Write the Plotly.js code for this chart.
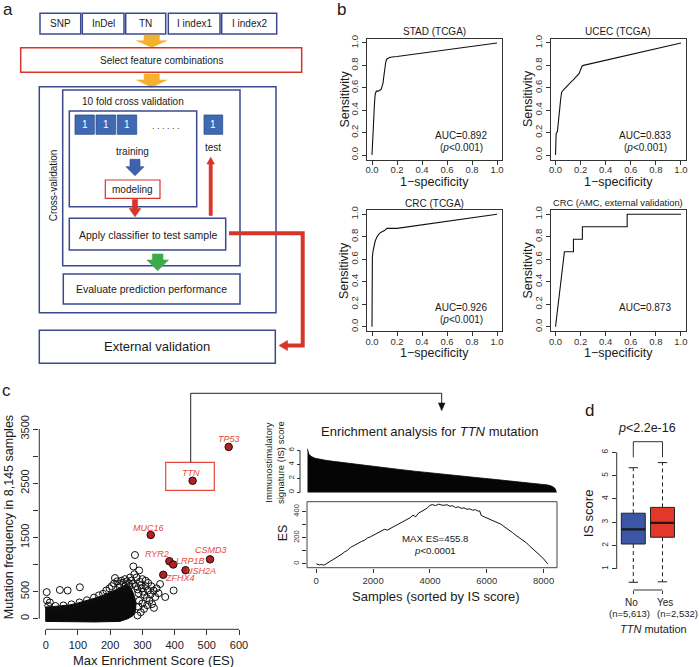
<!DOCTYPE html>
<html><head><meta charset="utf-8">
<script src="https://cdn.plot.ly/plotly-3.0.1.min.js"></script>
<style>html,body{margin:0;padding:0;background:#fff}#chart{width:699px;height:667px}</style>
</head><body><div id="chart"></div>
<script>
// ---------- Panel b : ROC curves ----------
const rocTitles = ['STAD (TCGA)','UCEC (TCGA)','CRC (TCGA)','CRC (AMC, external validation)'];
const rocAUC = ['0.892','0.833','0.926','0.873'];
const rocP = ['<0.001','<0.001','<0.001',''];
const stadFpr = [0,0.003,0.006,0.01,0.014,0.018,0.022,0.027,0.035,0.05,0.065,0.075,0.082,0.088,0.092,0.097,0.103,0.11,0.118,0.128,0.14,0.16,0.2,1.0];
const stadTpr = [0,0.1,0.2,0.27,0.35,0.42,0.5,0.55,0.57,0.57,0.58,0.59,0.62,0.64,0.68,0.74,0.79,0.83,0.855,0.865,0.87,0.875,0.88,1.0];
const ucecFpr = [0,0,0.005,0.015,0.022,0.028,0.035,0.041,0.049,0.062,0.075,0.089,0.1,0.116,0.13,0.142,0.155,0.169,0.18,0.19,0.197,0.203,0.212,0.222,1.0];
const ucecTpr = [0,0.17,0.19,0.21,0.27,0.35,0.43,0.5,0.56,0.58,0.595,0.61,0.625,0.65,0.66,0.67,0.685,0.7,0.71,0.73,0.755,0.78,0.795,0.8,1.0];
const crcFpr = [0,0,0.003,0.008,0.015,0.025,0.04,0.06,0.08,0.1,0.12,0.2,1.0];
const crcTpr = [0,0.56,0.62,0.67,0.72,0.76,0.8,0.83,0.845,0.855,0.875,0.875,1.0];
const amcFpr = [0,0.071,0.143,0.143,0.214,0.214,0.571,0.571,1.0];
const amcTpr = [0,0.667,0.667,0.778,0.778,0.889,0.889,1.0,1.0];
const rocTicks = [0,0.2,0.4,0.6,0.8,1.0];
const rocTickText = ['0.0','0.2','0.4','0.6','0.8','1.0'];

// ---------- Panel c : scatter ----------
const geneNames = ['TP53','TTN','MUC16','CSMD3','RYR2','LRP1B','USH2A','ZFHX4'];
const geneES = [568,456,326,510,384,396,434,365];
const geneFreq = [3170,2545,1545,1095,1060,1000,895,810];
const cloudES = [0,0,25,50,75,100,125,150,175,200,220,240,255,265,272,278,280,278,270,255,230,150,60,0];
const cloudFreq = [-50,215,225,235,255,290,330,375,425,485,540,600,610,560,470,360,240,130,50,0,-50,-60,-60,-50];
const otherES = [3,4,13,44,68,106,8,30,55,80,105,128,150,165,178,188,198,205,212,215,222,228,235,240,246,252,258,262,266,270,272,277,290,280,285,288,292,295,298,302,306,310,314,318,322,326,330,336,340,344,350,355,371,397,290,300,288,305,295,285,315,328,335,282,275,310,318,300,260,250,230];
const otherFreq = [490,335,300,530,520,580,240,235,245,265,300,340,390,430,460,520,560,600,650,750,690,640,700,660,730,690,650,760,700,640,965,1175,890,600,540,470,680,620,560,500,440,600,380,520,330,450,270,200,400,560,470,640,400,520,330,280,220,180,120,60,250,600,520,760,820,700,660,730,600,560,580];
const scXTicks = [0,100,200,300,400,500,600];
const scYTicks = [0,500,1000,1500,2000,2500,3000,3500];
const scYText = ['0','500','','1500','','2500','','3500'];

// ---------- Panel c : enrichment ----------
const isIdx = [0,20,50,90,150,250,400,600,850,1200,1600,2000,2500,3000,3500,4000,4500,5000,5500,6000,6500,7000,7400,7700,7850,7950,8050,8100,8145];
const isVal = [6.3,5.9,5.5,5.3,5.1,4.9,4.75,4.6,4.45,4.25,4.05,3.9,3.6,3.3,3.05,2.85,2.6,2.38,2.15,1.93,1.72,1.5,1.32,1.18,1.08,0.95,0.75,0.5,0];
const esIdx = [0,60,120,180,240,300,360,420,480,540,600,700,800,900,1000,1100,1200,1300,1400,1500,1600,1700,1800,1900,2000,2100,2200,2300,2400,2500,2600,2700,2800,2900,3000,3100,3200,3300,3400,3500,3600,3700,3800,3900,4000,4100,4200,4300,4400,4500,4600,4700,4800,4900,5000,5100,5200,5300,5400,5500,5600,5700,5750,5800,5900,6000,6100,6200,6300,6400,6500,6600,6700,6800,6900,7000,7100,7200,7300,7400,7500,7600,7700,7800,7900,8000,8100,8145];
const esVal = [0,-3,-8,-4,-9,-6,2,8,14,22,30,45,58,75,92,104,125,138,147,160,172,181,198,206,218,230,238,252,264,258,270,281,292,306,318,327,339,352,372,360,388,402,410,425,448,452,445,456,450,447,452,440,444,430,436,424,428,417,420,410,414,402,405,372,360,350,342,330,320,312,303,286,272,258,240,222,208,194,178,160,138,120,100,82,60,38,12,0];
const esXTicks = [0,2000,4000,6000,8000];
const esYTicks = [0,100,200,300,400];
const esYText = ['0','','200','','400'];
const isYTicks = [0,2,4,6];

// ---------- Panel d : boxplot ----------
const boxGroups = ['No','Yes'];
const boxN = ['5,613','2,532'];
const boxLower = [0.43,0.45];
const boxQ1 = [2.07,2.36];
const boxMed = [2.70,2.98];
const boxQ3 = [3.39,3.64];
const boxUpper = [5.34,5.56];
const boxColors = ['#3C56A6','#E3372A'];

// ---------- helpers ----------
const W = 699, H = 667;
const fx = p => p / W;
const fy = p => 1 - p / H;
const FONT = 'Liberation Sans, Arial, sans-serif';
const shapes = [], annotations = [], traces = [];
const NAVY = '#3B4A8F', RED = '#D8352A', ORANGE = '#F5B02E', GREEN = '#3CAB4A', BLUE = '#3E62AD', SQ = '#3F6AB3';

function rect(x0,y0,x1,y1,color,lw,fill){
  shapes.push({type:'rect',xref:'paper',yref:'paper',x0:fx(x0),x1:fx(x1),y0:fy(y1),y1:fy(y0),
    line:{color:color,width:lw},fillcolor:fill||'rgba(0,0,0,0)'});
}
function poly(pts,fill,color,lw,closed){
  const d = 'M' + pts.map(p => fx(p[0]) + ',' + fy(p[1])).join(' L') + (closed ? ' Z' : '');
  shapes.push({type:'path',xref:'paper',yref:'paper',path:d,fillcolor:fill||'rgba(0,0,0,0)',
    line:{color:color||'rgba(0,0,0,0)',width:lw||0}});
}
function vArrow(cx,yt,yn,yp,sh,hh,fill,edge){
  poly([[cx-sh,yt],[cx+sh,yt],[cx+sh,yn],[cx+hh,yn],[cx,yp],[cx-hh,yn],[cx-sh,yn]],fill,edge||fill,0.6,true);
}
function txt(x,y,t,size,o){
  o = o || {};
  annotations.push(Object.assign({xref:'paper',yref:'paper',x:fx(x),y:fy(y),text:t,showarrow:false,
    xanchor:'center',yanchor:'middle',textangle:o.angle||0,borderpad:0,
    font:{family:FONT,size:size,color:o.color||'#1a1a1a'}}, o.extra||{}));
}

// ---------- Panel a : flowchart ----------
txt(8,10,'a',17);
const topBoxes = [[40,80.7,'SNP'],[82.3,124,'InDel'],[125.7,165.7,'TN'],[168.3,220,'I index1'],[221.7,276.7,'I index2']];
topBoxes.forEach(b => { rect(b[0],13.3,b[1],34,NAVY,1.5); txt((b[0]+b[1])/2,23.7,b[2],10); });
vArrow(151.7,35,40.7,47.3,7.6,15,ORANGE);
rect(20.7,47.7,301.7,72.3,RED,1.5);
txt(161.2,60,'Select feature combinations',10);
vArrow(151.7,74,80,87.3,7.6,15,ORANGE);
rect(39.3,86.7,276,312.7,NAVY,1.5);
txt(53.3,185,'Cross-validation',10,{angle:-90});
rect(62.7,90,240,265.7,NAVY,1.5);
txt(132.8,101.7,'10 fold cross validation',10);
rect(69.3,111,196.7,206.7,NAVY,1.5);
[[75,94.3],[96,115.7],[117.3,136.7],[204,222.7]].forEach(s => {
  rect(s[0],115,s[1],134.3,'#2F4F8F',0.8,SQ); txt((s[0]+s[1])/2,124.7,'1',10,{color:'#ffffff'});
});
txt(166,125.5,'. . . . . .',9,{color:'#333'});
txt(213.3,147.7,'test',10);
txt(132.7,151,'training',10);
vArrow(135,159.3,166.7,175.7,5,9,BLUE,'#2C4A8A');
rect(105.3,180,160,198.3,RED,1.2);
txt(132.7,189.3,'modeling',10);
vArrow(135,199.5,208.5,216.8,2.6,5.8,RED);
rect(69.3,218.3,225.7,250,NAVY,1.5);
txt(147.5,234.7,'Apply classifier to test sample',10.5);
vArrow(210.7,215.5,164,157.3,1.6,3.8,RED);
poly([[229,233.3],[302.7,233.3],[302.7,345.5],[287,345.5]],null,RED,4,false);
poly([[287.5,340.5],[287.5,350.5],[279,345.5]],RED,RED,0.6,true);
vArrow(157.7,254,260,270.7,5.3,10.8,GREEN);
rect(63.3,274,240,304,NAVY,1.5);
txt(151.7,289,'Evaluate prediction performance',10.5);
rect(39.3,330.3,275.3,363.3,NAVY,1.5);
txt(157.3,346.7,'External validation',13);

// ---------- Panel b : ROC ----------
txt(341,10,'b',17);
const rocData = [[stadFpr,stadTpr],[ucecFpr,ucecTpr],[crcFpr,crcTpr],[amcFpr,amcTpr]];
const rocBoxes = [[367,502,38.5,159.5],[550.5,686,38.5,159.5],[367,502,209.8,331.2],[550.5,686,209.8,331.2]];
const layout = {width:W,height:H,margin:{l:0,r:0,t:0,b:0},paper_bgcolor:'#ffffff',plot_bgcolor:'rgba(0,0,0,0)',
  showlegend:false,hovermode:false,font:{family:FONT,color:'#1a1a1a'},shapes:shapes,annotations:annotations};
const axBase = {showgrid:false,zeroline:false,ticks:'outside',tickwidth:1,tickcolor:'#333',fixedrange:true};
rocBoxes.forEach((b,i) => {
  const s = i === 0 ? '' : String(i+1);
  layout['xaxis'+s] = Object.assign({}, axBase, {domain:[fx(b[0]),fx(b[1])],range:[-0.04,1.04],anchor:'y'+s,
    tickvals:rocTicks,ticktext:rocTickText,ticklen:4,showline:true,mirror:true,linecolor:'#333',linewidth:1,
    ticklabelstandoff:-3,tickangle:0,tickfont:{family:FONT,size:9.5,color:'#333'}});
  layout['yaxis'+s] = Object.assign({}, axBase, {domain:[fy(b[3]),fy(b[2])],range:[-0.04,1.04],anchor:'x'+s,
    tickvals:rocTicks,ticktext:rocTickText,ticklen:4,tickangle:-90,showline:true,mirror:true,linecolor:'#333',linewidth:1,
    tickfont:{family:FONT,size:9.5,color:'#333'}});
  traces.push({type:'scatter',mode:'lines',x:rocData[i][0],y:rocData[i][1],xaxis:'x'+s,yaxis:'y'+s,
    line:{color:'#111',width:1.1},hoverinfo:'skip'});
  txt((b[0]+b[1])/2,b[2]-6.8,rocTitles[i],i===3?9.3:10);
  txt(b[0]-22.5,(b[2]+b[3])/2,'Sensitivity',12.5,{angle:-90});
  txt((b[0]+b[1])/2,b[3]+22,'1\u2212specificity',12.5);
  annotations.push({xref:'x'+s,yref:'y'+s,x:0.715,y:0.17,text:'AUC='+rocAUC[i],showarrow:false,
    font:{family:FONT,size:10,color:'#1a1a1a'}});
  if (rocP[i]) annotations.push({xref:'x'+s,yref:'y'+s,x:0.715,y:0.063,text:'(<i>p</i>'+rocP[i].replace('<','&lt;')+')',showarrow:false,
    font:{family:FONT,size:10,color:'#1a1a1a'}});
});

// ---------- Panel c : scatter ----------
txt(6,391,'c',17);
layout.xaxis5 = Object.assign({}, axBase, {domain:[fx(39.3),fx(245)],range:[-19.86,618.6],anchor:'y5',
  tickvals:scXTicks,ticklen:5,showline:false,tickangle:0,tickfont:{family:FONT,size:11,color:'#222'}});
layout.yaxis5 = Object.assign({}, axBase, {domain:[fy(629.3),fy(425)],range:[-195.6,3573.8],anchor:'x5',
  tickvals:scYTicks,ticktext:scYText,ticklen:5,tickangle:-90,showline:false,tickfont:{family:FONT,size:11,color:'#222'}});
shapes.push({type:'line',xref:'x5',yref:'y5 domain',x0:scXTicks[0],x1:scXTicks[scXTicks.length-1],y0:0,y1:0,line:{color:'#333',width:1}});
shapes.push({type:'line',xref:'x5 domain',yref:'y5',x0:0,x1:0,y0:scYTicks[0],y1:scYTicks[scYTicks.length-1],line:{color:'#333',width:1}});
traces.push({type:'scatter',mode:'lines',x:cloudES,y:cloudFreq,fill:'toself',fillcolor:'#0a0a0a',
  line:{color:'#0a0a0a',width:1},xaxis:'x5',yaxis:'y5',hoverinfo:'skip'});
traces.push({type:'scatter',mode:'markers',x:otherES,y:otherFreq,xaxis:'x5',yaxis:'y5',hoverinfo:'skip',
  marker:{symbol:'circle-open',size:7,color:'#111',line:{width:1}}});
traces.push({type:'scatter',mode:'markers',x:geneES,y:geneFreq,xaxis:'x5',yaxis:'y5',hoverinfo:'skip',
  marker:{symbol:'circle',size:7.5,color:'#B3201F',line:{color:'#111',width:1}}});
const labDx = [0,-2,-2,1,-12,17,15,17], labDy = [8,8,7,9,7,4,-1,-3];
geneNames.forEach((g,i) => annotations.push({xref:'x5',yref:'y5',x:geneES[i],y:geneFreq[i],xshift:labDx[i],yshift:labDy[i],
  text:'<i>'+g+'</i>',showarrow:false,font:{family:FONT,size:9,color:'#E8473C'}}));
txt(9.2,517,'Mutation frequency in 8,145 samples',12.5,{angle:-90});
txt(153,660,'Max Enrichment Score (ES)',13);
rect(165.7,462.3,214.3,490.3,'#E8473C',1.2);
poly([[190.7,462.3],[190.7,393.3],[441.7,393.3],[441.7,404]],null,'#222',1,false);
poly([[438.4,403],[445,403],[441.7,410.7]],'#111','#111',0.5,true);

// ---------- Panel c : enrichment ----------
txt(430,431.7,'Enrichment analysis for <i>TTN</i> mutation',13);
layout.xaxis6 = {domain:[fx(307.3),fx(556.7)],range:[0,8145],anchor:'y6',visible:false,fixedrange:true};
layout.yaxis6 = Object.assign({}, axBase, {domain:[fy(493),fy(445)],range:[-0.07,6.79],anchor:'free',position:fx(300),
  tickvals:isYTicks,ticklen:3,tickangle:-90,showline:false,tickfont:{family:FONT,size:8,color:'#333'}});
shapes.push({type:'line',xref:'paper',yref:'y6',x0:fx(300),x1:fx(300),y0:isYTicks[0],y1:isYTicks[isYTicks.length-1],line:{color:'#333',width:1}});
traces.push({type:'scatter',mode:'lines',x:isIdx,y:isVal,fill:'tozeroy',fillcolor:'#050505',line:{color:'#050505',width:0.8},
  xaxis:'x6',yaxis:'y6',hoverinfo:'skip'});
txt(274,463,'Immunostimulatory<br>signature (IS) score',9.5,{angle:-90});
layout.xaxis7 = Object.assign({}, axBase, {domain:[fx(307),fx(557)],range:[-326,8471],anchor:'y7',
  tickvals:esXTicks,ticklen:4,showline:false,tickangle:0,tickfont:{family:FONT,size:9.5,color:'#333'}});
layout.yaxis7 = Object.assign({}, axBase, {domain:[fy(567.7),fy(501.7)],range:[-29,474.8],anchor:'x7',
  tickvals:esYTicks,ticktext:esYText,ticklen:4,tickangle:-90,showline:false,tickfont:{family:FONT,size:7.5,color:'#333'}});
rect(307,501.7,557,567.7,'#444',1);
traces.push({type:'scatter',mode:'lines',x:esIdx,y:esVal,xaxis:'x7',yaxis:'y7',line:{color:'#111',width:1},hoverinfo:'skip'});
txt(283,533.3,'ES',12.5,{angle:-90});
txt(435,538.3,'MAX ES=455.8',9.7);
txt(435,550,'<i>p</i>&lt;0.0001',9.7);
txt(435.8,596.7,'Samples (sorted by IS score)',13);

// ---------- Panel d : boxplot ----------
txt(589,411,'d',17);
layout.xaxis8 = Object.assign({}, axBase, {domain:[fx(616.7),fx(690)],range:[0.4315,2.942],anchor:'y8',
  tickvals:[1,2],ticktext:['',''],ticklen:3,showline:false});
layout.yaxis8 = Object.assign({}, axBase, {domain:[fy(590),fy(445)],range:[0.0986,6.314],anchor:'x8',
  tickvals:[1,2,3,4,5,6],ticklen:4,tickangle:-90,showline:false,tickfont:{family:FONT,size:8.5,color:'#333'}});
shapes.push({type:'line',xref:'x8 domain',yref:'y8',x0:0,x1:0,y0:1,y1:6,line:{color:'#333',width:1}});
shapes.push({type:'line',xref:'x8',yref:'y8 domain',x0:1,x1:2,y0:0,y1:0,line:{color:'#333',width:1}});
const grpLabelX = [[631.7,629.3],[665,677.5]];
boxGroups.forEach((g,i) => {
  const xp = i + 1;
  traces.push({type:'scatter',mode:'lines',x:[xp,xp,null,xp,xp],y:[boxQ3[i],boxUpper[i],null,boxQ1[i],boxLower[i]],
    xaxis:'x8',yaxis:'y8',line:{color:'#222',width:1,dash:'4px,3px'},hoverinfo:'skip'});
  traces.push({type:'scatter',mode:'lines',x:[xp-0.16,xp+0.16,null,xp-0.16,xp+0.16],y:[boxUpper[i],boxUpper[i],null,boxLower[i],boxLower[i]],
    xaxis:'x8',yaxis:'y8',line:{color:'#222',width:1},hoverinfo:'skip'});
  traces.push({type:'box',x:[xp],q1:[boxQ1[i]],median:[boxMed[i]],q3:[boxQ3[i]],lowerfence:[boxQ1[i]],upperfence:[boxQ3[i]],
    width:0.82,fillcolor:boxColors[i],line:{color:'#222',width:1},xaxis:'x8',yaxis:'y8',boxpoints:false,hoverinfo:'skip',whiskerwidth:0});
  traces.push({type:'scatter',mode:'lines',x:[xp-0.41,xp+0.41],y:[boxMed[i],boxMed[i]],xaxis:'x8',yaxis:'y8',
    line:{color:'#1a1a1a',width:2.2},hoverinfo:'skip'});
  txt(grpLabelX[i][0],602,g,10,{color:'#222'});
  txt(grpLabelX[i][1],613.3,'(n='+boxN[i]+')',9.5,{color:'#222'});
});
poly([[633.3,457.3],[633.3,441.7],[662.5,441.7],[662.5,457.3]],null,'#333',1,false);
txt(647.3,428.3,'<i>p</i>&lt;2.2e-16',12.5);
txt(588.3,513,'IS score',13,{angle:-90});
txt(653,629.3,'<i>TTN</i> mutation',11);

Plotly.newPlot('chart',traces,layout,{staticPlot:true,displayModeBar:false});
</script></body></html>
